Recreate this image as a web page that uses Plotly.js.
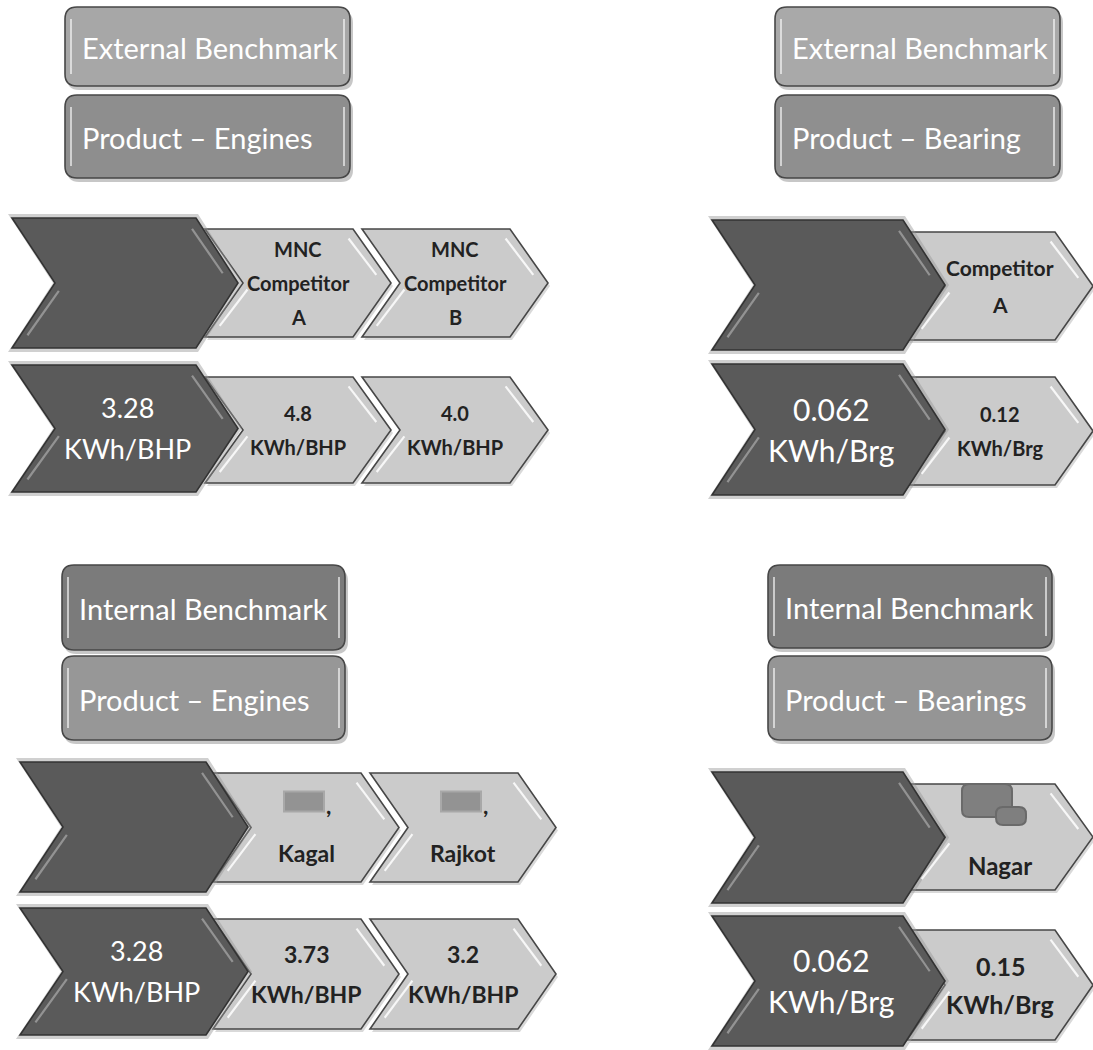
<!DOCTYPE html>
<html>
<head>
<meta charset="utf-8">
<script src="https://cdn.plot.ly/plotly-3.0.1.min.js"></script>
<style>html,body{margin:0;padding:0;background:#fff;}#chart{width:1093px;height:1050px;}</style>
</head>
<body>
<div id="chart"></div>
<script>
// ---------- DATA ----------
const benchmarkTitles = ["External Benchmark", "External Benchmark", "Internal Benchmark", "Internal Benchmark"];
const productTitles = ["Product \u2013 Engines", "Product \u2013 Bearing", "Product \u2013 Engines", "Product \u2013 Bearings"];
const comparatorNames = [
  [["MNC", "Competitor", "A"], ["MNC", "Competitor", "B"]],
  [["Competitor", "A"]],
  [[",", "Kagal"], [",", "Rajkot"]],
  [["", "Nagar"]]
];
const ownValues = ["3.28", "0.062", "3.28", "0.062"];
const comparatorValues = [["4.8", "4.0"], ["0.12"], ["3.73", "3.2"], ["0.15"]];
const units = ["KWh/BHP", "KWh/Brg", "KWh/BHP", "KWh/Brg"];

// ---------- LAYOUT / STYLE (positions, sizes, colours) ----------
const geo = [
  {box: {x0: 65, x1: 350, r1: [7, 86], r2: [95, 178]}, boxFill: ["#a7a7a7", "#8e8e8e"],
   darkL: 12, darkW: 226, lightL: [205, 362],
   row1: {dark: [218, 348], light: [229, 337]}, row2: {dark: [365, 492], light: [377, 483]},
   nameFont: 20, nameGap: 34, valFont: 20, valGap: 34, ownFont: 27, redact: null},
  {box: {x0: 775, x1: 1060, r1: [7, 86], r2: [95, 178]}, boxFill: ["#a9a9a9", "#8f8f8f"],
   darkL: 712, darkW: 233, lightL: [907],
   row1: {dark: [220, 350], light: [232, 340]}, row2: {dark: [364, 495], light: [377, 485]},
   nameFont: 21, nameGap: 37, valFont: 20, valGap: 34, ownFont: 30, redact: null},
  {box: {x0: 62, x1: 345, r1: [565, 650], r2: [656, 740]}, boxFill: ["#7b7b7b", "#979797"],
   darkL: 20, darkW: 228, lightL: [213, 370],
   row1: {dark: [762, 892], light: [773, 882]}, row2: {dark: [908, 1035], light: [919, 1029]},
   nameFont: 23, nameGap: 50, valFont: 23, valGap: 40, ownFont: 27, redact: "comma"},
  {box: {x0: 768, x1: 1052, r1: [565, 648], r2: [656, 740]}, boxFill: ["#7b7b7b", "#959595"],
   darkL: 712, darkW: 233, lightL: [907],
   row1: {dark: [772, 903], light: [784, 890]}, row2: {dark: [916, 1046], light: [930, 1040]},
   nameFont: 24, nameGap: 56, valFont: 25, valGap: 38, ownFont: 30, redact: "blob"}
];
const DARK_D = 42, DARK_N = 43;
const LIGHT_W = 186, LIGHT_D = 38, LIGHT_N = 38;
const FONT = "Lato, 'Open Sans', sans-serif";

function chevron(L, top, bot, w, d, n) {
  const m = (top + bot) / 2;
  return `M${L},${top} L${L + w - d},${top} L${L + w},${m} L${L + w - d},${bot} L${L},${bot} L${L + n},${m} Z`;
}
function roundRect(x0, y0, x1, y1, r) {
  return `M${x0 + r},${y0} L${x1 - r},${y0} Q${x1},${y0} ${x1},${y0 + r} L${x1},${y1 - r} Q${x1},${y1} ${x1 - r},${y1} ` +
         `L${x0 + r},${y1} Q${x0},${y1} ${x0},${y1 - r} L${x0},${y0 + r} Q${x0},${y0} ${x0 + r},${y0} Z`;
}
function seg(x0, y0, x1, y1, color, width, op) {
  return {type: "line", xref: "x", yref: "y", x0, y0, x1, y1, line: {color, width}, opacity: op, layer: "above"};
}
function bevel(L, top, bot, w, d, n, color, op) {
  const m = (top + bot) / 2, out = [];
  const ax = L + w - d, ay = top, bx = L + w, by = m;
  out.push(seg(ax + (bx - ax) * 0.12 - 9, ay + (by - ay) * 0.12 + 3, ax + (bx - ax) * 0.85 - 9, ay + (by - ay) * 0.85, color, 2.2, op));
  const cx = L + n, cy = m, dx = L, dy = bot;
  out.push(seg(cx + (dx - cx) * 0.12 + 9, cy + (dy - cy) * 0.12, cx + (dx - cx) * 0.85 + 9, cy + (dy - cy) * 0.85 - 3, color, 2.2, op));
  return out;
}

const shapes = [];
const annotations = [];
function txt(x, y, text, size, color, bold, anchor) {
  annotations.push({x, y, xref: "x", yref: "y", text: bold ? `<b>${text}</b>` : text, showarrow: false,
    xanchor: anchor || "center", yanchor: "middle",
    font: {family: FONT, size, color}});
}

geo.forEach((g, p) => {
  // ---- header boxes ----
  const rows = [g.box.r1, g.box.r2];
  const labels = [benchmarkTitles[p], productTitles[p]];
  rows.forEach((r, k) => {
    shapes.push({type: "path", xref: "x", yref: "y", path: roundRect(g.box.x0 + 2, r[0] + 4, g.box.x1 + 3, r[1] + 4, 12),
      fillcolor: "rgba(0,0,0,0.22)", line: {width: 0}, layer: "below"});
    shapes.push({type: "path", xref: "x", yref: "y", path: roundRect(g.box.x0, r[0], g.box.x1, r[1], 12),
      fillcolor: g.boxFill[k], line: {color: "#474747", width: 1.6}, layer: "below"});
    shapes.push(seg(g.box.x0 + 6, r[0] + 12, g.box.x0 + 6, r[1] - 12, "#ffffff", 2, 0.6));
    shapes.push(seg(g.box.x1 - 6, r[0] + 12, g.box.x1 - 6, r[1] - 12, "#ffffff", 2, 0.6));
    txt(g.box.x0 + 15, (r[0] + r[1]) / 2 + 1, labels[k], 29, "#ffffff", false, "left");
  });

  // ---- chevron rows ----
  [g.row1, g.row2].forEach((row, ri) => {
    g.lightL.forEach((L, ci) => {
      const [t, b] = row.light;
      shapes.push({type: "path", xref: "x", yref: "y", path: chevron(L + 2, t + 3, b + 3, LIGHT_W, LIGHT_D, LIGHT_N),
        fillcolor: "rgba(0,0,0,0.15)", line: {width: 0}, layer: "below"});
      shapes.push({type: "path", xref: "x", yref: "y", path: chevron(L, t, b, LIGHT_W, LIGHT_D, LIGHT_N),
        fillcolor: "#cbcbcb", line: {color: "#474747", width: 1.6}, layer: "below"});
      bevel(L, t, b, LIGHT_W, LIGHT_D, LIGHT_N, "#ffffff", 0.85).forEach(s => shapes.push(s));
      const cx = L + (LIGHT_N + LIGHT_W - LIGHT_D) / 2;
      const cy = (t + b) / 2;
      if (ri === 0) {
        const lines = comparatorNames[p][ci];
        const n = lines.length;
        lines.forEach((ln, li) => {
          const y = cy + (li - (n - 1) / 2) * g.nameGap;
          if (g.redact === "comma" && li === 0) {
            shapes.push({type: "rect", xref: "x", yref: "y", x0: cx - 22, x1: cx + 18, y0: y - 11, y1: y + 9,
              fillcolor: "#8d8d8d", line: {color: "#a5a5a5", width: 2}, layer: "above", opacity: 0.9});
            txt(cx + 22, y + 2, ln, g.nameFont, "#222222", true, "center");
          } else if (g.redact === "blob" && li === 0) {
            shapes.push({type: "path", xref: "x", yref: "y",
              path: roundRect(cx - 38, y - 25, cx + 12, y + 8, 7),
              fillcolor: "#7f7f7f", line: {color: "#6a6a6a", width: 2}, layer: "above"});
            shapes.push({type: "path", xref: "x", yref: "y",
              path: roundRect(cx - 4, y - 2, cx + 26, y + 16, 7),
              fillcolor: "#7f7f7f", line: {color: "#6a6a6a", width: 2}, layer: "above"});
          } else {
            txt(cx, y, ln, g.nameFont, "#222222", true);
          }
        });
      } else {
        txt(cx, cy - g.valGap / 2, comparatorValues[p][ci], g.valFont, "#222222", true);
        txt(cx, cy + g.valGap / 2, units[p], g.valFont, "#222222", true);
      }
    });
    const [t, b] = row.dark;
    const L = g.darkL, W = g.darkW;
    shapes.push({type: "path", xref: "x", yref: "y", path: chevron(L - 4, t - 4, b + 4, W + 8, DARK_D + 2, DARK_N + 2),
      fillcolor: "rgba(150,150,150,0.45)", line: {width: 0}, layer: "below"});
    shapes.push({type: "path", xref: "x", yref: "y", path: chevron(L, t, b, W, DARK_D, DARK_N),
      fillcolor: "#5a5a5a", line: {color: "#333333", width: 1.6}, layer: "below"});
    bevel(L, t, b, W, DARK_D, DARK_N, "#9a9a9a", 0.9).forEach(s => shapes.push(s));
    if (ri === 1) {
      const cx = L + (DARK_N + W - DARK_D) / 2 + 2;
      const cy = (t + b) / 2;
      txt(cx, cy - 21, ownValues[p], g.ownFont, "#ffffff", false);
      txt(cx, cy + 20, units[p], g.ownFont, "#ffffff", false);
    }
  });
});

const layout = {
  width: 1093, height: 1050,
  margin: {l: 0, r: 0, t: 0, b: 0},
  paper_bgcolor: "#ffffff", plot_bgcolor: "#ffffff",
  showlegend: false,
  xaxis: {range: [0, 1093], visible: false, fixedrange: true},
  yaxis: {range: [1050, 0], visible: false, fixedrange: true},
  shapes, annotations
};
Plotly.newPlot("chart", [{x: [], y: [], type: "scatter", hoverinfo: "skip"}], layout, {staticPlot: true, displayModeBar: false});
</script>
</body>
</html>
